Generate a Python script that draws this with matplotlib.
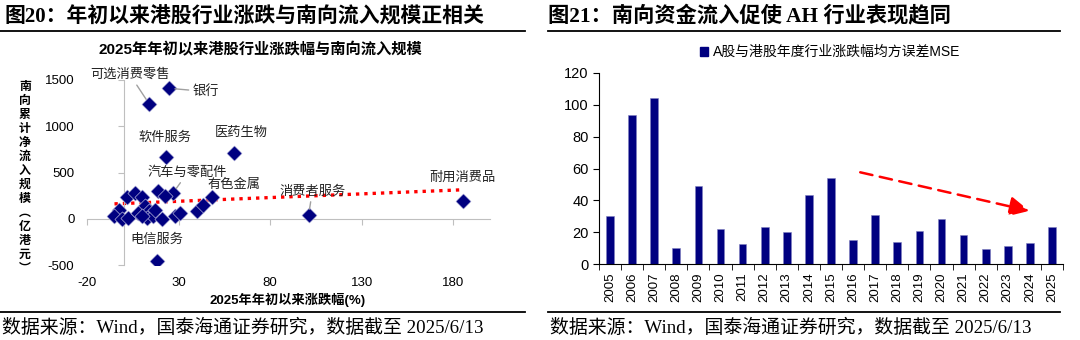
import numpy as np
import matplotlib.pyplot as plt
from matplotlib.lines import Line2D
from matplotlib.patches import Patch

plt.rcParams['font.family'] = ['Liberation Sans', 'Noto Sans CJK SC', 'DejaVu Sans']
plt.rcParams['axes.unicode_minus'] = False

# 港股行业：年初以来涨跌幅(%) 与 南向累计净流入(亿港元)
sector_names = ['银行', '可选消费零售', '软件服务', '医药生物', '汽车与零配件',
                '有色金属', '消费者服务', '耐用消费品', '电信服务',
                '', '', '', '', '', '', '', '', '', '', '',
                '', '', '', '', '', '', '', '', '', '']
sector_chg = [25, 14, 23, 60, 27, 48, 101, 185, 18,
              2, 6, 10, 18.5, 22.5, -2.5, -5, -1, 2.5, 11.5, 14,
              12.5, 16, 17, 21, 28, 31, 40, 43.5, 8, 10]
sector_flow = [1410, 1240, 670, 710, 280, 230, 45, 190, -460,
               235, 275, 240, 295, 245, 95, 25, -5, 10, 135, 80,
               10, 25, 95, -5, 25, 60, 80, 150, 60, 25]
# 趋势线 y = a*x + b
trend_a = 0.80
trend_b = 165

# A股与港股年度行业涨跌幅均方误差
years = [str(y) for y in range(2005, 2026)]
mse = [30, 93.5, 104.5, 10, 49, 22, 12.5, 23, 20, 43.5,
       54, 15, 30.5, 14, 20.5, 28.5, 18.5, 9.5, 11.5, 13.5, 23.5]

navy = '#000080'
grey = '#bfbfbf'
serif = ['Liberation Serif', 'Noto Sans CJK SC']

fig = plt.figure(figsize=(10.8, 3.4), dpi=100)

# ---- 图20 散点 ----
ax1 = fig.add_axes([87 / 1080, 1 - 265 / 340, 403 / 1080, 185 / 340])
ax1.set_xlim(-20, 200)
ax1.set_ylim(-500, 1500)
for s in ['top', 'right']:
    ax1.spines[s].set_visible(False)
ax1.spines['left'].set_position(('data', 0))
ax1.spines['bottom'].set_position(('data', 0))
ax1.spines['left'].set_color(grey)
ax1.spines['bottom'].set_color(grey)
ax1.set_xticks([-20, 30, 80, 130, 180])
ax1.set_yticks([-500, 0, 500, 1000, 1500])
ax1.tick_params(colors=grey, length=4, labelleft=False, labelbottom=False)

sy = ax1.secondary_yaxis(0)
sy.spines['left'].set_visible(False)
sy.set_yticks([-500, 0, 500, 1000, 1500])
sy.tick_params(length=0, pad=9, labelsize=9.5, colors='black')
sx = ax1.secondary_xaxis(0)
sx.spines['bottom'].set_visible(False)
sx.set_xticks([-20, 30, 80, 130, 180])
sx.tick_params(length=0, pad=9, labelsize=9.5, colors='black')

xs = np.array(sector_chg)
tx = np.array([xs.min(), xs.max()])
ax1.plot(tx, trend_a * tx + trend_b, color='red', ls=(0, (1, 1.5)), lw=2.4, zorder=2)
ax1.scatter(sector_chg, sector_flow, marker='D', s=60, color=navy,
            edgecolors='#d0d0e8', linewidths=0.4, zorder=3)

# 行业标签位置 (文字坐标, 是否画引线)
label_pos = {
    '可选消费零售': ((3.5, 1555), True),
    '银行': ((45, 1375), True),
    '软件服务': ((22.5, 875), False),
    '医药生物': ((64, 930), False),
    '汽车与零配件': ((35, 500), True),
    '有色金属': ((60, 370), False),
    '消费者服务': ((103, 295), True),
    '耐用消费品': ((185, 445), False),
    '电信服务': ((18, -225), False),
}
for name, xv, yv in zip(sector_names, sector_chg, sector_flow):
    if name not in label_pos:
        continue
    pos, lead = label_pos[name]
    props = dict(arrowstyle='-', color='#a0a0a0', lw=1, shrinkA=1, shrinkB=4) if lead else None
    ax1.annotate(name, xy=(xv, yv), xytext=pos, ha='center', va='center',
                 fontsize=9.5, color='#222222', arrowprops=props, zorder=4)

fig.text(260 / 1080, 1 - 50 / 340, '2025年年初以来港股行业涨跌幅与南向流入规模',
         ha='center', va='center', fontsize=11, fontweight='bold')
fig.text(288 / 1080, 1 - 300 / 340, '2025年年初以来涨跌幅(%)',
         ha='center', va='center', fontsize=9.5, fontweight='bold')
ylab = '南向累计净流入规模︵亿港元︶'
fig.text(25 / 1080, 1 - 178 / 340, '\n'.join(ylab), ha='center', va='center',
         fontsize=8.6, fontweight='bold', linespacing=1.22)

# ---- 图21 柱状 ----
ax2 = fig.add_axes([599 / 1080, 1 - 264 / 340, 464 / 1080, 191 / 340])
x = np.arange(len(years))
ax2.bar(x, mse, width=0.35, color=navy, edgecolor='#8080c0', linewidth=0.4,
        label='A股与港股年度行业涨跌幅均方误差MSE')
ax2.set_xlim(-0.5, len(years) - 0.5)
ax2.set_ylim(0, 120)
ax2.set_yticks(range(0, 121, 20))
ax2.set_xticks(x)
ax2.set_xticklabels(years, rotation=90)
ax2.set_xticks(np.arange(-0.5, len(years), 1), minor=True)
ax2.tick_params(axis='x', which='major', length=0, pad=6, labelsize=9.5)
ax2.tick_params(axis='x', which='minor', length=4, direction='out')
ax2.tick_params(axis='y', length=4, labelsize=10.5)
for s in ['top', 'right']:
    ax2.spines[s].set_visible(False)

ax2.annotate('', xy=(19.1, 33), xytext=(11.2, 58),
             arrowprops=dict(arrowstyle='-|>,head_length=1.0,head_width=0.5',
                             color='red', lw=1.8, ls=(0, (5, 3)), mutation_scale=12))

ax2.legend(handles=[Patch(color=navy)], labels=['A股与港股年度行业涨跌幅均方误差MSE'],
           loc='center', bbox_to_anchor=(830 / 1080, 1 - 52 / 340),
           bbox_transform=fig.transFigure, frameon=False, fontsize=10,
           handlelength=0.6, handleheight=0.6, handletextpad=0.3)

# ---- 标题、分隔线、来源 ----
fig.text(5 / 1080, 1 - 17 / 340, '图20：年初以来港股行业涨跌与南向流入规模正相关',
         ha='left', va='center', fontsize=15, fontweight='bold', family=serif)
fig.text(548 / 1080, 1 - 17 / 340, '图21：南向资金流入促使 AH 行业表现趋同',
         ha='left', va='center', fontsize=15.3, fontweight='bold', family=serif)
src = '数据来源：Wind，国泰海通证券研究，数据截至 2025/6/13'
fig.text(2 / 1080, 1 - 328 / 340, src, ha='left', va='center', fontsize=13.6, family=serif)
fig.text(550 / 1080, 1 - 328 / 340, src, ha='left', va='center', fontsize=13.6, family=serif)
for x0, x1 in [(0, 525), (548, 1060)]:
    for yy in [31, 312]:
        fig.add_artist(Line2D([x0 / 1080, x1 / 1080], [1 - yy / 340] * 2,
                              transform=fig.transFigure, color='black', lw=1.3))

fig.savefig('out.png', dpi=100)
